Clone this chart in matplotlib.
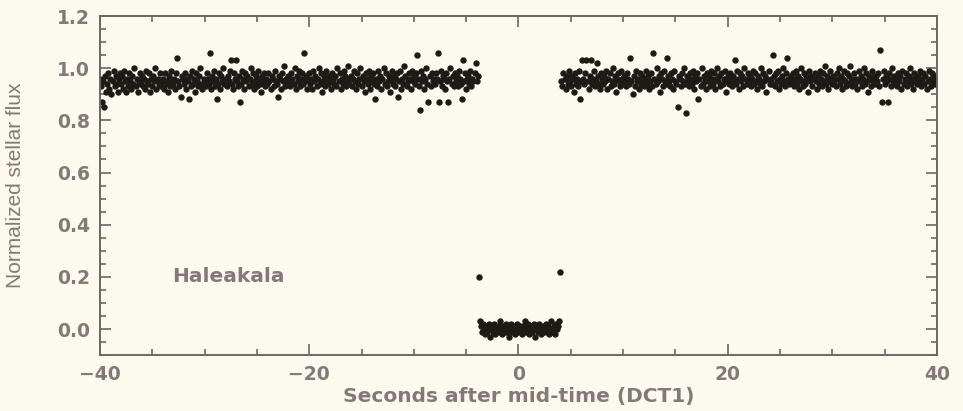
import matplotlib.pyplot as plt
from matplotlib.ticker import MultipleLocator
import numpy as np

#%% Data (flux in hundredths)
# pre-event baseline, t = -40.0 ... -3.9 s, 0.1 s steps
t_pre = np.linspace(-40.0, -3.9, 362)
flux_pre = np.array([
    96,93,87,95,85,97,91,94,98,92,96,90,95,99,93,97,94,91,96,98,
    94,97,92,99,95,91,96,93,98,95,92,97,94,100,93,96,91,95,98,94,
    97,93,96,92,99,95,94,98,91,96,93,97,95,100,92,96,94,98,93,95,
    96,92,98,94,95,91,97,93,99,95,94,96,92,98,104,95,93,89,97,96,
    94,98,92,96,95,88,97,93,99,94,96,91,98,95,93,97,100,94,92,96,
    95,93,98,96,94,106,92,97,95,99,93,96,88,94,98,92,97,95,100,94,
    96,93,97,95,99,103,94,92,98,96,103,95,93,97,87,94,99,96,92,98,
    95,97,93,96,100,94,98,92,95,97,93,99,96,94,91,97,95,98,93,96,
    94,98,95,92,97,96,93,99,95,94,89,97,96,92,98,95,101,93,96,94,
    97,95,93,98,96,94,100,92,97,95,99,93,96,98,94,106,95,97,92,96,
    98,94,96,92,99,95,97,93,96,100,94,98,91,95,97,93,99,96,94,97,
    95,92,98,96,94,97,93,100,95,98,92,96,94,99,97,93,95,101,94,96,
    97,93,96,99,95,92,98,94,96,100,93,97,95,91,98,96,94,99,92,97,
    95,98,94,88,96,93,99,95,97,92,96,100,94,98,93,95,97,91,96,99,
    94,97,93,96,98,89,95,99,92,96,94,101,97,93,95,98,96,92,99,95,
    97,94,98,105,96,93,84,99,95,97,92,96,100,94,87,97,93,98,95,96,
    94,98,96,106,87,95,99,93,97,96,92,98,95,87,96,100,94,97,93,98,
    95,97,93,99,96,94,88,103,95,98,92,96,97,94,99,93,96,95,98,102,
    95,97]) / 100.0

# occultation, t = -3.7 ... 3.9 s
t_occ = np.linspace(-3.7, 3.9, 77)
flux_occ = np.array([
    3,1,-1,2,0,-2,1,-1,0,2,-3,1,0,-1,2,-2,0,1,-1,3,
    0,-2,1,0,-1,2,-1,0,-3,1,2,-1,0,1,-2,0,2,-1,1,0,
    -2,1,-1,3,0,-1,2,-2,0,1,-1,0,2,-3,1,0,-1,2,0,-2,
    1,-1,0,2,-1,1,-2,0,3,-1,0,1,-2,2,0,1,3]) / 100.0

# ingress / egress points
t_edge = [-3.8, 4.0]
flux_edge = [0.20, 0.22]

# post-event baseline, t = 4.1 ... 40.0 s
t_post = np.linspace(4.1, 40.0, 360)
flux_post = np.array([
    95,93,98,96,92,97,94,99,95,93,97,96,91,98,94,96,93,99,88,95,
    103,96,94,98,103,95,92,97,103,94,96,99,93,95,102,97,94,92,98,96,
    94,97,95,99,92,96,98,93,95,100,94,97,91,96,98,95,93,99,96,94,
    97,95,93,98,96,94,104,95,90,97,93,99,95,96,92,98,94,97,95,93,
    96,99,94,97,92,95,98,93,106,96,94,100,95,97,91,98,96,93,99,95,
    94,104,97,95,93,98,96,92,99,95,94,85,97,96,93,98,95,100,94,83,
    97,95,93,98,96,94,99,92,97,95,98,88,96,93,100,94,97,95,92,98,
    95,97,93,99,96,94,98,92,96,100,95,97,93,98,94,96,99,91,95,97,
    94,98,96,93,97,95,103,94,99,96,92,98,95,97,93,100,96,94,98,95,
    97,93,96,99,94,98,95,92,97,96,94,100,93,98,95,97,91,96,99,94,
    96,94,105,97,93,98,95,99,92,96,94,97,100,95,93,98,104,96,94,97,
    95,98,93,96,99,94,97,92,96,100,95,93,98,94,97,96,91,99,95,97,
    93,96,98,95,92,97,94,99,96,93,98,95,101,94,97,92,96,99,95,94,
    97,95,93,98,96,100,94,97,92,96,99,95,93,98,94,97,101,95,93,96,
    98,94,96,92,99,95,97,93,96,100,94,98,95,91,97,96,93,99,95,97,
    94,97,95,98,93,107,87,96,99,94,97,95,87,98,96,93,100,95,97,94,
    96,93,98,95,97,92,99,94,96,98,93,95,97,100,94,96,92,98,95,97,
    94,97,95,99,93,96,98,94,97,92,95,99,96,93,98,95,97,94,96,95]) / 100.0

#%% Plot
bg = '#fcf9ef'
txt = '#857878'
axc = '#6e6464'
dot = '#1e1a16'

fig = plt.figure(figsize=(9.63, 4.11), dpi=100, facecolor=bg)
ax = fig.add_axes([0.1038, 0.136, 0.8692, 0.825], facecolor=bg)

for t, f in [(t_pre, flux_pre), (t_occ, flux_occ), (t_edge, flux_edge), (t_post, flux_post)]:
    ax.plot(t, f, 'o', ms=4.6, mec='none', mfc=dot)

ax.set_xlim(-40, 40)
ax.set_ylim(-0.1, 1.2)
ax.xaxis.set_major_locator(MultipleLocator(20))
ax.xaxis.set_minor_locator(MultipleLocator(5))
ax.yaxis.set_major_locator(MultipleLocator(0.2))
ax.yaxis.set_minor_locator(MultipleLocator(0.05))
ax.yaxis.set_major_formatter(plt.FuncFormatter(lambda v, p: '%.1f' % v))

ax.tick_params(which='both', direction='in', top=True, right=True, colors=axc,
               labelcolor=txt, labelsize=13.5, width=1.2)
ax.tick_params(which='major', length=8, pad=7)
ax.tick_params(which='minor', length=4)
for lab in ax.get_xticklabels() + ax.get_yticklabels():
    lab.set_family('DejaVu Sans')
    lab.set_weight('bold')
for s in ax.spines.values():
    s.set_color(axc)
    s.set_linewidth(1.4)

ax.set_xlabel('Seconds after mid-time (DCT1)', fontsize=14.5, color=txt,
              family='DejaVu Sans', weight='bold')
ax.xaxis.set_label_coords(0.5, -0.095)
ax.set_ylabel('Normalized stellar flux', fontsize=15, color=txt,
              family='Liberation Sans')
ax.yaxis.set_label_coords(-0.09, 0.5)
ax.text(-33.1, 0.2, 'Haleakala', fontsize=14.5, color=txt, family='DejaVu Sans',
        weight='bold', va='center', ha='left')

plt.savefig('out.png', dpi=100, facecolor=bg)
